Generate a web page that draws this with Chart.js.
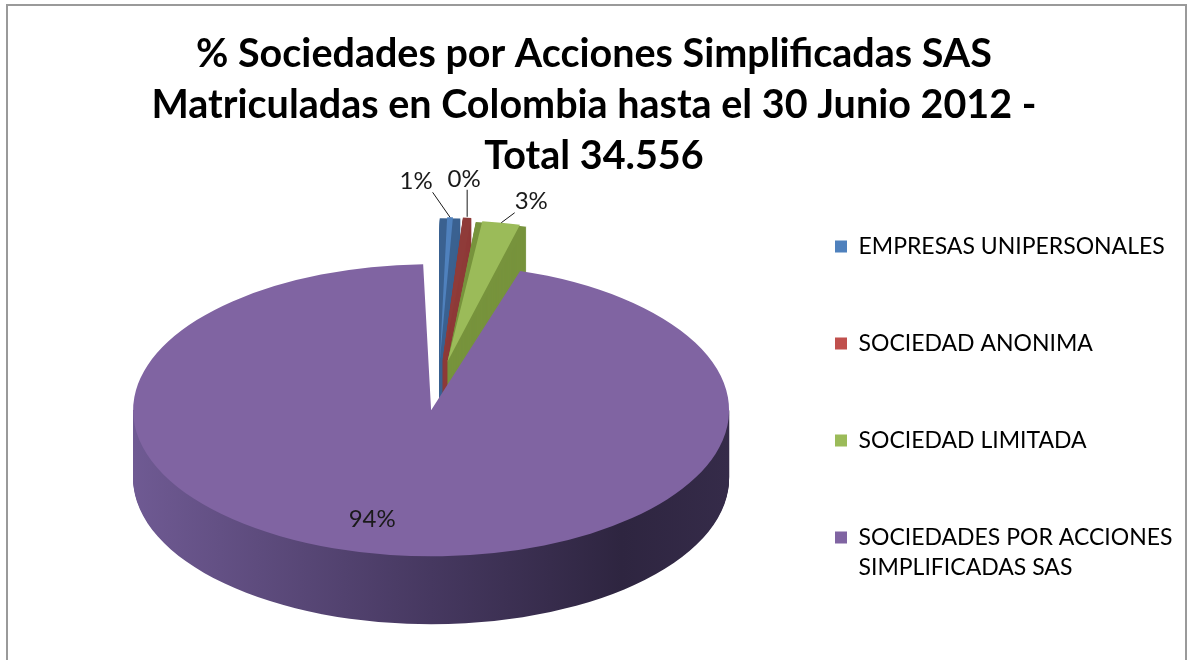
<!DOCTYPE html>
<html>
<head>
<meta charset="utf-8">
<script src="https://cdn.jsdelivr.net/npm/chart.js@4.4.1/dist/chart.umd.min.js"></script>
<style>
  html, body { margin: 0; padding: 0; background: #fff; }
</style>
</head>
<body>
<canvas id="myChart" width="1188" height="660"></canvas>
<script>
// data
var categories = ['EMPRESAS UNIPERSONALES', 'SOCIEDAD ANONIMA', 'SOCIEDAD LIMITADA', 'SOCIEDADES POR ACCIONES SIMPLIFICADAS SAS'];
var legendLines = [
  ['EMPRESAS UNIPERSONALES', '', ''],
  ['SOCIEDAD ANONIMA', '', ''],
  ['SOCIEDAD LIMITADA', '', ''],
  ['SOCIEDADES POR ACCIONES', 'SIMPLIFICADAS SAS']
];
var shares = [1.1, 0.45, 2.8, 94.45];   // percent of total
var titleLines = ['% Sociedades por Acciones Simplificadas SAS', 'Matriculadas en Colombia hasta el 30 Junio 2012 -', 'Total 34.556'];

var topColors = ['#4F81BD', '#C0504D', '#9BBB59', '#8064A2'];
var sideColors = ['#3A6190', '#8F3B39', '#77933C', null];

var TILT = 0.49;   // vertical squash of the pie
var DEPTH = 68;    // thickness in px
var LEG_PAD = 7;
var LEG_FONT = 23;
var TITLE_FONT = 39.5;
// label nudges (small slices: from the slice edge, big slice: from the inner point)
var nudge = [[-34, -36], [-3, -38], [30, -21], [-26, -7]];

// legend width so that the boxes land at x=835
var mctx = document.createElement('canvas').getContext('2d');
mctx.font = LEG_FONT + 'px Lato';
var tw = 0;
legendLines.forEach(function (l) {
  var longest = l.reduce(function (a, b) { return a.length > b.length ? a : b; });
  tw = Math.max(tw, mctx.measureText(longest).width);
});
var legWidth = LEG_PAD + 12 + LEG_FONT / 2 + tw + 10;
var rightPad = 1188 - 828 - legWidth;

function sliceGeom(arc) {
  var p = arc.getProps(['x', 'y', 'startAngle', 'endAngle', 'outerRadius', 'circumference'], true);
  var off = (arc.options.offset || 0) / 4;
  var mid = (p.startAngle + p.endAngle) / 2;
  var fix = 1 - Math.sin(Math.min(Math.PI, p.circumference || 0));
  return {
    x: p.x + Math.cos(mid) * off,
    y: p.y + Math.sin(mid) * off,
    r: p.outerRadius + off * fix,
    start: p.startAngle, end: p.endAngle, mid: mid, big: p.circumference > Math.PI
  };
}

var frame = {
  id: 'frame',
  afterLayout: function (chart) {
    // title is centred on the whole frame, not on the padded area
    if (chart.titleBlock) {
      chart.titleBlock.left = 0;
      chart.titleBlock.right = chart.width;
    }
  },
  beforeDraw: function (chart) {
    var ctx = chart.ctx;
    ctx.save();
    ctx.fillStyle = '#fff';
    ctx.fillRect(0, 0, chart.width, chart.height);
    ctx.strokeStyle = '#9a9a9a';
    ctx.lineWidth = 2;
    ctx.strokeRect(7, 5, 1179, 700);
    ctx.restore();
  }
};

var pie3d = {
  id: 'pie3d',
  beforeDatasetDraw: function () { return false; },
  afterDatasetsDraw: function (chart) {
    var ctx = chart.ctx;
    var arcs = chart.getDatasetMeta(0).data;
    var cy = arcs[0].y;
    ctx.save();
    ctx.translate(0, cy);
    ctx.scale(1, TILT);
    ctx.translate(0, -cy);
    var bg = sliceGeom(arcs[arcs.length - 1]);
    var grad = ctx.createLinearGradient(bg.x - bg.r, 0, bg.x + bg.r, 0);
    grad.addColorStop(0, '#6f5a93');
    grad.addColorStop(0.5, '#463860');
    grad.addColorStop(0.82, '#2e2540');
    grad.addColorStop(1, '#352b49');
    for (var d = DEPTH; d > 0; d--) {
      arcs.forEach(function (arc, i) {
        var g = sliceGeom(arc);
        ctx.save();
        if (g.big) {
          // only the front half of the big slice shows its side
          ctx.beginPath();
          ctx.rect(0, g.y, chart.width, 2000);
          ctx.clip();
        }
        ctx.translate(0, d / TILT);
        ctx.beginPath();
        ctx.moveTo(g.x, g.y);
        ctx.arc(g.x, g.y, g.r, g.start, g.end);
        ctx.closePath();
        ctx.fillStyle = sideColors[i] || grad;
        ctx.fill();
        ctx.restore();
      });
    }
    arcs.forEach(function (arc) { arc.draw(ctx); });
    ctx.restore();

    // percent labels
    ctx.save();
    ctx.font = '24px Lato';
    ctx.fillStyle = '#1a1a1a';
    ctx.strokeStyle = '#1a1a1a';
    ctx.lineWidth = 1;
    ctx.textAlign = 'center';
    ctx.textBaseline = 'middle';
    arcs.forEach(function (arc, i) {
      var g = sliceGeom(arc);
      var sy = function (y) { return cy + (y - cy) * TILT; };
      var txt = Math.round(shares[i]) + '%';
      if (shares[i] > 10) {
        ctx.fillText(txt, g.x + Math.cos(g.mid) * g.r * 0.8 + nudge[i][0], sy(g.y + Math.sin(g.mid) * g.r * 0.8) + nudge[i][1]);
      } else {
        var ex = g.x + Math.cos(g.mid) * g.r, ey = sy(g.y + Math.sin(g.mid) * g.r);
        var lx = ex + nudge[i][0], ly = ey + nudge[i][1];
        ctx.fillText(txt, lx, ly);
        var w = ctx.measureText(txt).width / 2;
        var ax = lx + Math.max(-w, Math.min(w, ex - lx));
        ctx.beginPath();
        ctx.moveTo(ex, ey);
        ctx.lineTo(ax, ly + 11);
        ctx.stroke();
      }
    });
    ctx.restore();
  }
};

var ctx = document.getElementById('myChart');

const cfg = {
  type: 'pie',
  data: {
    labels: categories,
    datasets: [{
      data: shares,
      backgroundColor: topColors,
      borderWidth: 0,
      offset: 200,
      radius: 248,
      clip: false
    }]
  },
  options: {
    responsive: false,
    animation: false,
    events: [],
    layout: { padding: { left: 48, right: rightPad, top: 0, bottom: 67 } },
    plugins: {
      tooltip: { enabled: false },
      title: {
        display: true,
        text: titleLines,
        color: '#000',
        font: { family: 'Lato', size: TITLE_FONT, weight: 'bold', lineHeight: 51 / TITLE_FONT },
        padding: { top: 29, bottom: -3 }
      },
      legend: {
        position: 'right',
        align: 'end',
        labels: {
          boxWidth: 12,
          boxHeight: 12,
          padding: LEG_PAD,
          color: '#000',
          font: { family: 'Lato', size: LEG_FONT, lineHeight: 30 / LEG_FONT },
          generateLabels: function () {
            return legendLines.map(function (t, i) {
              return { text: t, fillStyle: topColors[i], strokeStyle: topColors[i], lineWidth: 0, hidden: false, index: i };
            });
          }
        }
      }
    }
  },
  plugins: [frame, pie3d]
};

new Chart(ctx, cfg);
</script>
</body>
</html>
